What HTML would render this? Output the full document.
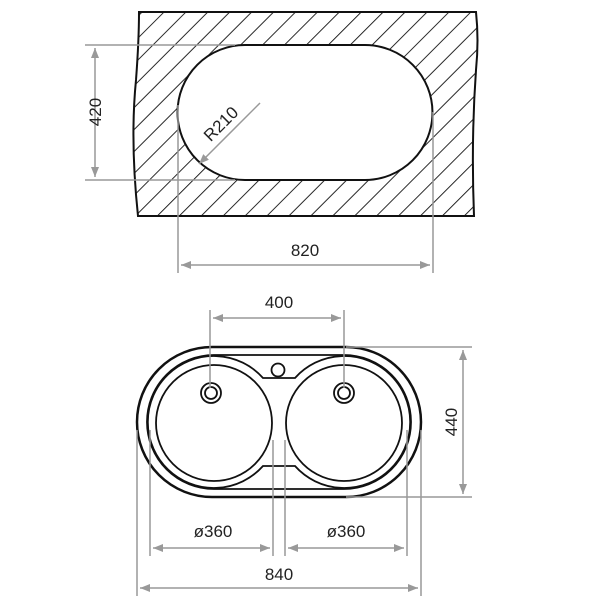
<!DOCTYPE html>
<html><head><style>body{margin:0;background:#fff}svg{display:block}text{font-family:"Liberation Sans",sans-serif;font-size:17px;fill:#222}</style></head><body>
<svg width="600" height="600" viewBox="0 0 600 600" xmlns="http://www.w3.org/2000/svg">
<defs>
<pattern id="h" patternUnits="userSpaceOnUse" width="15.5" height="15.5" patternTransform="rotate(45)">
<line x1="0" y1="0" x2="0" y2="15.5" stroke="#111" stroke-width="1.8"/>
</pattern>
<marker id="a" markerWidth="10" markerHeight="8" refX="10" refY="4" orient="auto-start-reverse" markerUnits="userSpaceOnUse"><path d="M0,0 L10,4 L0,8 Z" fill="#999"/></marker>
</defs>
<path fill-rule="evenodd" d="M139,12 L476,12 Q479,40 476,70 Q471,140 474,216 L138,216 Q130,140 136,80 Q139,40 139,12 Z M245,45 L365,45 A67.5,67.5 0 0 1 365,180 L245,180 A67.5,67.5 0 0 1 245,45 Z" fill="url(#h)" stroke="#111" stroke-width="2"/>
<g stroke="#999" stroke-width="1.5" fill="none">
<line x1="85" y1="45" x2="235" y2="45"/><line x1="85" y1="180" x2="235" y2="180"/>
<line x1="95" y1="48" x2="95" y2="177" marker-start="url(#a)" marker-end="url(#a)"/>
<line x1="178" y1="105" x2="178" y2="273"/><line x1="433" y1="112" x2="433" y2="273"/>
<line x1="181" y1="265" x2="430" y2="265" marker-start="url(#a)" marker-end="url(#a)"/>
<line x1="260" y1="103" x2="199" y2="164" marker-end="url(#a)"/>
</g>
<text x="0" y="0" transform="translate(101,112) rotate(-90)" text-anchor="middle">420</text>
<text x="305" y="256" text-anchor="middle">820</text>
<text x="0" y="0" transform="translate(225,128) rotate(-45)" text-anchor="middle">R210</text>
<g fill="none" stroke="#111">
<path d="M212,347 L346,347 A75,75 0 0 1 346,497 L212,497 A75,75 0 0 1 212,347 Z" stroke-width="2.5"/>
<path d="M214,355 L344,355 A67,67 0 0 1 344,489 L214,489 A67,67 0 0 1 214,355 Z" stroke-width="1.8"/>
<path d="M263,378 L295,378 A66,66 0 1 1 295,466 L263,466 A66,66 0 1 1 263,378 Z" stroke-width="1.8"/>
<circle cx="214" cy="423" r="58" stroke-width="1.8"/>
<circle cx="344" cy="423" r="58" stroke-width="1.8"/>
<circle cx="278" cy="370" r="6.5" stroke-width="1.8"/>
<circle cx="211" cy="393" r="10" stroke-width="1.8"/><circle cx="211" cy="393" r="6" stroke-width="1.8"/>
<circle cx="344" cy="393" r="10" stroke-width="1.8"/><circle cx="344" cy="393" r="6" stroke-width="1.8"/>
</g>
<g stroke="#999" stroke-width="1.5" fill="none">
<line x1="210" y1="310" x2="210" y2="388"/><line x1="344" y1="310" x2="344" y2="388"/>
<line x1="213" y1="318" x2="341" y2="318" marker-start="url(#a)" marker-end="url(#a)"/>
<line x1="346" y1="347" x2="472" y2="347"/><line x1="346" y1="497" x2="472" y2="497"/>
<line x1="463" y1="350" x2="463" y2="494" marker-start="url(#a)" marker-end="url(#a)"/>
<line x1="137" y1="430" x2="137" y2="596"/><line x1="150" y1="430" x2="150" y2="556"/>
<line x1="273" y1="440" x2="273" y2="556"/><line x1="285" y1="440" x2="285" y2="556"/>
<line x1="407" y1="430" x2="407" y2="556"/><line x1="421" y1="430" x2="421" y2="596"/>
<line x1="153" y1="548" x2="270" y2="548" marker-start="url(#a)" marker-end="url(#a)"/>
<line x1="288" y1="548" x2="404" y2="548" marker-start="url(#a)" marker-end="url(#a)"/>
<line x1="140" y1="588" x2="418" y2="588" marker-start="url(#a)" marker-end="url(#a)"/>
</g>
<text x="279" y="308" text-anchor="middle">400</text>
<text x="0" y="0" transform="translate(457,422) rotate(-90)" text-anchor="middle">440</text>
<text x="213" y="537" text-anchor="middle">ø360</text>
<text x="346" y="537" text-anchor="middle">ø360</text>
<text x="279" y="580" text-anchor="middle">840</text>
</svg>
</body></html>
